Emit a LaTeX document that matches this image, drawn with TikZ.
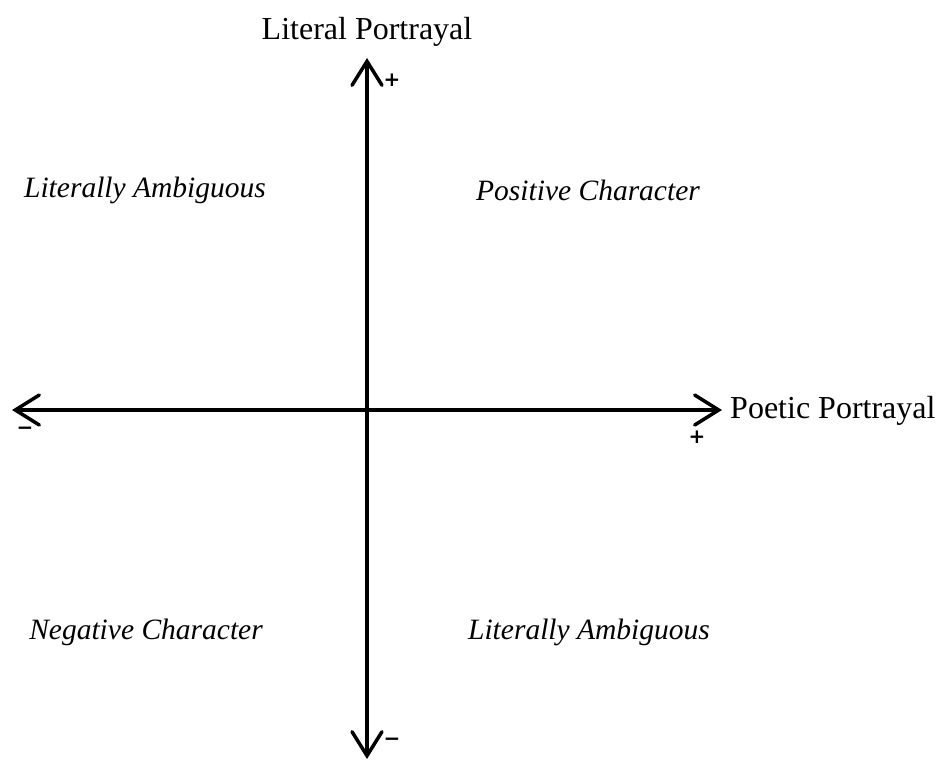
\documentclass[tikz,border=0pt]{standalone}
\usepackage{fontspec}
\setmainfont{Liberation Serif}
\newfontfamily\signfont{DejaVu Sans}
\usetikzlibrary{arrows.meta}
\begin{document}
\begin{tikzpicture}[x=1pt,y=-1pt,
  axis/.style={line width=3.5pt, line cap=round, -{Straight Barb[length=24pt,width=30pt,line width=3.5pt,line cap=round]}},
  lbl/.style={font=\fontsize{32}{38}\selectfont},
  quad/.style={font=\fontsize{29.5}{35}\selectfont\itshape},
  sgn/.style={font=\signfont\bfseries\fontsize{20}{24}\selectfont, inner sep=0pt}]
\useasboundingbox (0,0) rectangle (947,761);
\coordinate (o) at (367,410);
\coordinate (top) at (367,58);
\coordinate (bot) at (367,759);
\coordinate (lft) at (12,410);
\coordinate (rgt) at (722,410);
\draw[axis] (o) -- (top);
\draw[axis] (o) -- (bot);
\draw[axis] (o) -- (lft);
\draw[axis] (o) -- (rgt);
\node[lbl] (ylab) at (367,32) {Literal Portrayal};
\node[lbl, anchor=west, inner sep=0pt] (xlab) at (730,411) {Poetic Portrayal};
\node[quad] (q1) at (145,190) {Literally Ambiguous};
\node[quad] (q2) at (588,190) {Positive Character};
\node[quad] (q3) at (146,632) {Negative Character};
\node[quad] (q4) at (589,632) {Literally Ambiguous};
\node[sgn] (s1) at (392,80) {+};
\node[sgn] (s2) at (25,431) {−};
\node[sgn] (s3) at (697,437) {+};
\node[sgn] (s4) at (392,742) {−};
\end{tikzpicture}
\end{document}
